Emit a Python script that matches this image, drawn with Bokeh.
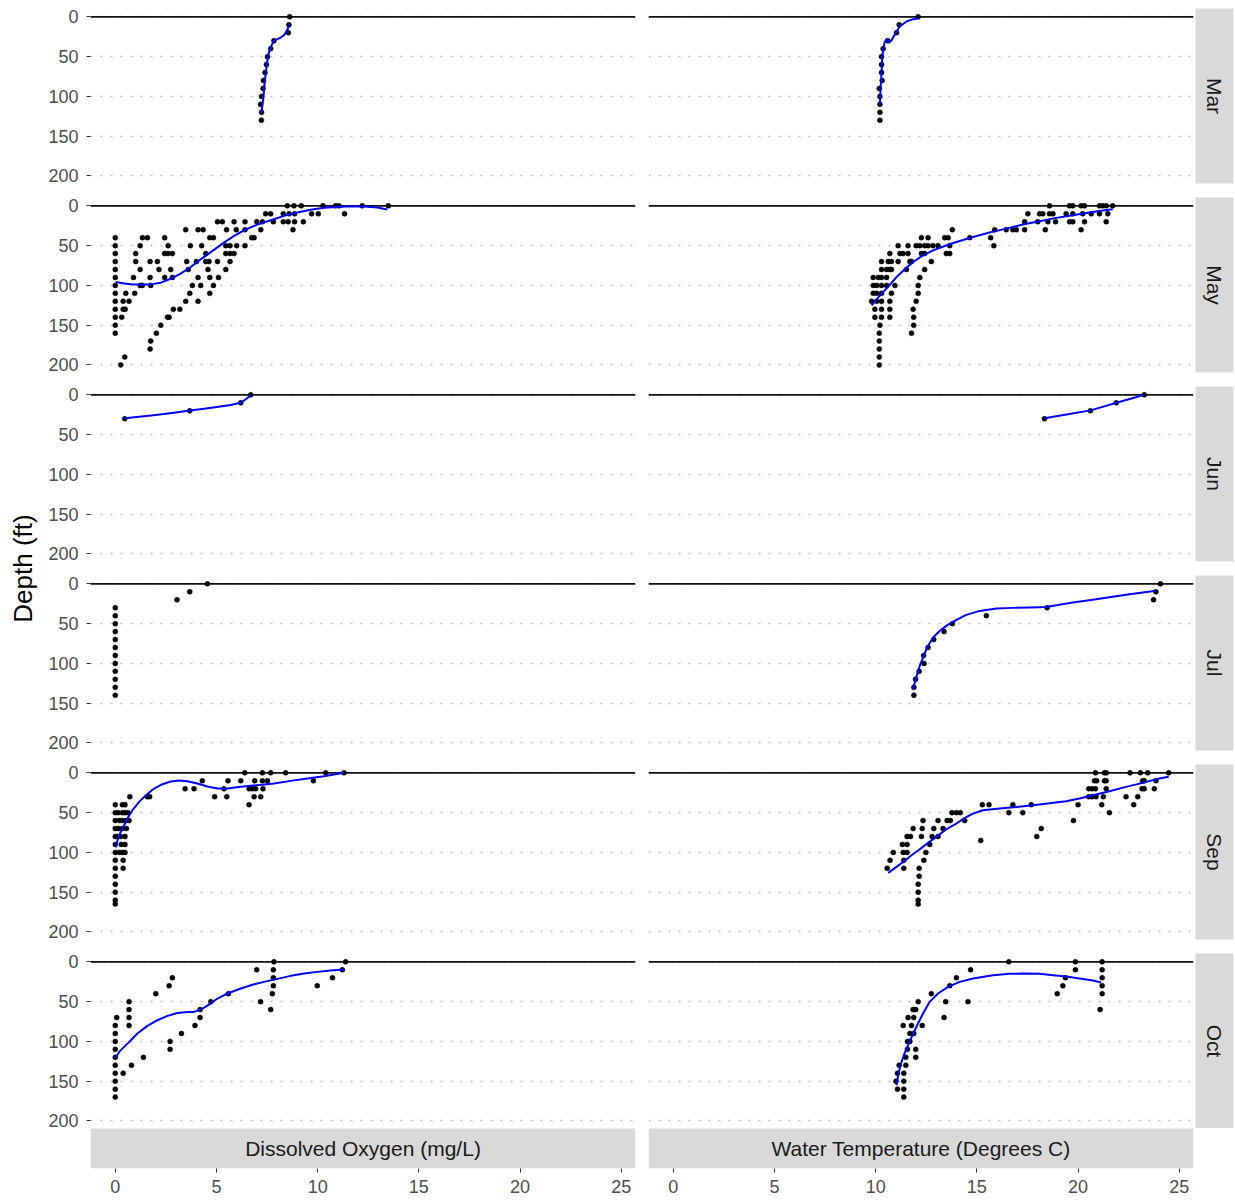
import math

from bokeh.core.properties import value
from bokeh.embed import file_html
from bokeh.layouts import column, row
from bokeh.models import FixedTicker, Grid, Range1d, Span
from bokeh.plotting import figure
from bokeh.resources import INLINE

# ---------------------------------------------------------------------------
# Facets and tick labels
# ---------------------------------------------------------------------------
months = ["Mar", "May", "Jun", "Jul", "Sep", "Oct"]
measures = ["Dissolved Oxygen (mg/L)", "Water Temperature (Degrees C)"]
value_ticks = [0, 5, 10, 15, 20, 25]
depth_ticks = [0, 50, 100, 150, 200]

# ---------------------------------------------------------------------------
# Profile readings: depth (ft) -> readings taken at that depth
# ---------------------------------------------------------------------------
mar_do = {0: [8.62], 10: [8.58], 20: [8.55], 30: [7.84], 40: [7.68], 50: [7.52],
          60: [7.47], 70: [7.40], 80: [7.32], 90: [7.30], 100: [7.23], 110: [7.18],
          120: [7.23], 130: [7.22]}
mar_temp = {0: [12.1], 10: [11.16], 20: [11.03], 30: [10.6], 40: [10.37], 50: [10.29],
            60: [10.29], 70: [10.29], 80: [10.32], 90: [10.18], 100: [10.21],
            110: [10.21], 120: [10.21], 130: [10.21]}

may_do = {
    0: [8.5, 8.83, 9.19, 10.26, 10.89, 11.05, 12.2, 13.49],
    10: [7.43, 7.68, 8.3, 8.59, 8.86, 9.7, 10.03, 11.33],
    20: [5.05, 5.29, 5.87, 6.41, 6.99, 7.27, 7.81, 8.3, 8.54, 8.86, 9.29],
    30: [3.48, 4.09, 4.34, 5.5, 5.98, 6.41, 7.19, 8.78],
    40: [0.0, 1.34, 1.59, 2.44, 4.67, 4.85, 6.74, 6.86],
    50: [0.0, 1.23, 2.61, 3.71, 4.27, 5.46, 5.67, 6.0, 6.41],
    60: [0.0, 1.01, 2.44, 2.61, 2.82, 4.47, 5.46, 5.67, 5.87],
    70: [0.0, 1.01, 1.72, 2.08, 3.53, 4.01, 4.47, 4.63, 5.05, 5.67],
    80: [0.0, 1.23, 2.16, 2.74, 3.61, 4.58, 5.46],
    90: [0.0, 0.9, 1.72, 2.44, 2.82, 4.09, 4.67, 5.1],
    100: [0.0, 1.23, 1.34, 1.75, 3.81, 4.22, 4.85],
    110: [0.0, 0.52, 0.96, 3.68, 4.67],
    120: [0.0, 0.39, 0.68, 3.48, 4.09],
    130: [0.0, 0.39, 0.49, 2.87, 3.19],
    140: [0.0, 0.32, 2.58, 2.66],
    150: [0.0, 2.25],
    160: [0.0, 2.03],
    170: [1.75],
    180: [1.72],
    190: [0.47],
    200: [0.27],
}
may_temp = {
    0: [18.59, 19.58, 19.74, 20.15, 20.32, 21.06, 21.22, 21.39, 21.71],
    10: [17.52, 18.1, 18.26, 18.59, 18.76, 19.41, 19.74, 20.23, 20.65, 21.06, 21.47],
    20: [17.36, 18.01, 18.51, 18.89, 19.58, 19.74, 20.32, 21.39],
    30: [13.79, 15.88, 16.45, 16.78, 16.95, 17.36, 18.38, 20.15],
    40: [12.26, 12.59, 13.41, 13.58, 14.65, 15.68],
    50: [11.11, 11.6, 12.0, 12.18, 12.42, 12.59, 12.83, 13.08, 13.66, 15.84],
    60: [10.7, 11.2, 11.36, 11.6, 12.26, 12.42, 13.49, 13.66],
    70: [10.29, 10.62, 10.78, 11.11, 11.69, 11.77, 12.75],
    80: [10.29, 10.54, 10.7, 10.78, 11.52, 12.42],
    90: [9.88, 10.13, 10.29, 10.54, 12.18],
    100: [9.88, 10.05, 10.29, 10.54, 10.95, 12.1],
    110: [9.88, 10.05, 10.29, 10.78, 12.1],
    120: [9.8, 10.05, 10.29, 10.7, 12.0],
    130: [9.96, 10.29, 10.7, 11.85],
    140: [9.96, 10.29, 10.7, 11.88],
    150: [10.21, 11.88],
    160: [10.18, 11.77],
    170: [10.18],
    180: [10.18],
    190: [10.18],
    200: [10.18],
}

jun_do = {0: [6.69], 10: [6.2], 20: [3.68], 30: [0.47]}
jun_temp = {0: [23.27], 10: [21.89], 20: [20.61], 30: [18.34]}

jul_do = {0: [4.55], 10: [3.68], 20: [3.05], 30: [0.0], 40: [0.0], 50: [0.0],
          60: [0.0], 70: [0.0], 80: [0.0], 90: [0.0], 100: [0.0], 110: [0.0],
          120: [0.0], 130: [0.0], 140: [0.0]}
jul_temp = {0: [24.07], 10: [23.85], 20: [23.73], 30: [18.47], 40: [15.47],
            50: [13.79], 60: [13.38], 70: [12.87], 80: [12.59], 90: [12.37],
            100: [12.39], 110: [12.15], 120: [11.97], 130: [11.89], 140: [11.89]}

sep_do = {
    0: [6.4, 7.27, 7.68, 8.42, 10.4, 11.3],
    10: [4.3, 5.57, 6.2, 6.89, 7.27, 7.52, 9.79],
    20: [3.45, 3.89, 5.37, 6.61, 6.77, 6.94, 7.3],
    30: [0.72, 1.59, 1.7, 4.91, 5.51, 6.86, 7.19],
    40: [0.0, 0.35, 0.48, 6.61],
    50: [0.0, 0.14, 0.35, 0.48, 0.63],
    60: [0.0, 0.2, 0.35, 0.52, 0.68],
    70: [0.0, 0.16, 0.35, 0.55],
    80: [0.0, 0.11, 0.27, 0.48],
    90: [0.0, 0.3, 0.48],
    100: [0.0, 0.2, 0.35, 0.48],
    110: [0.0, 0.39],
    120: [0.0, 0.39],
    130: [0.0],
    140: [0.0],
    150: [0.0],
    160: [0.0],
    165: [0.0],
}
sep_temp = {
    0: [20.86, 21.3, 21.39, 22.57, 23.08, 23.44, 24.48],
    10: [20.81, 20.92, 21.3, 21.39, 23.19, 23.27, 23.85],
    20: [20.53, 20.69, 20.86, 21.39, 23.16, 23.27, 23.77],
    30: [20.53, 20.69, 20.89, 21.25, 22.37, 22.95],
    40: [15.27, 15.6, 16.78, 17.69, 20.0, 21.17, 22.75],
    50: [13.77, 13.99, 14.18, 16.58, 17.27, 21.55],
    60: [12.34, 13.08, 13.53, 13.69, 14.4, 19.77],
    70: [11.85, 12.3, 12.87, 13.33, 18.18],
    80: [11.55, 11.72, 12.26, 12.79, 13.08, 17.96],
    85: [15.19],
    90: [11.32, 11.55, 12.67],
    100: [10.87, 11.36, 11.55, 12.48],
    110: [10.71, 11.39, 12.38],
    120: [10.57, 11.39, 12.15],
    130: [12.15],
    140: [12.1],
    150: [12.1],
    160: [12.1],
    165: [12.1],
}

oct_do = {
    0: [7.84, 11.38],
    10: [6.99, 7.81, 11.22],
    20: [2.82, 7.81, 10.73],
    30: [2.66, 7.81, 9.98],
    40: [2.0, 5.59, 7.76],
    50: [0.68, 4.72, 7.18],
    60: [0.68, 4.19, 7.68],
    70: [0.07, 0.68, 4.19],
    80: [0.0, 0.68, 3.94],
    90: [0.0, 3.27],
    100: [0.0, 2.71],
    110: [0.0, 2.71],
    120: [0.0, 1.39],
    130: [0.0, 0.8],
    140: [0.0, 0.39],
    150: [0.0],
    160: [0.0],
    170: [0.0],
}
oct_temp = {
    0: [16.58, 19.87, 21.19],
    10: [14.69, 19.87, 21.19],
    20: [13.99, 19.38, 21.19],
    30: [13.66, 19.25, 21.19],
    40: [12.75, 18.97, 21.19],
    50: [12.1, 13.46, 14.56],
    60: [11.85, 11.98, 21.09],
    70: [11.6, 11.88, 13.38],
    80: [11.36, 11.77, 12.3],
    90: [11.69, 11.88],
    100: [11.57, 11.69],
    110: [11.57, 11.98],
    120: [11.49, 11.98],
    130: [11.16, 11.49],
    140: [11.08, 11.39],
    150: [11.0, 11.39],
    160: [11.08, 11.39],
    170: [11.39],
}

# ---------------------------------------------------------------------------
# Loess trend of depth against reading (value, depth)
# ---------------------------------------------------------------------------
mar_do_fit_x = [7.22, 7.32, 7.38, 7.47, 7.55, 7.65, 7.81, 7.93, 8.17, 8.34, 8.5, 8.62]
mar_do_fit_d = [121, 101.5, 82.6, 63.7, 49, 39.8, 31.4, 28.9, 26, 23, 16.4, 9.2]
mar_temp_fit_x = [10.21, 10.24, 10.29, 10.32, 10.37, 10.45, 10.54, 10.67, 10.78, 10.95,
                  11.19, 11.52, 11.85, 12.1]
mar_temp_fit_d = [110.7, 91, 70, 53, 40.7, 31.4, 28, 32.3, 29.8, 21.8, 12.2, 5.9, 2.9, 1.7]

may_do_fit_x = [0.02, 0.44, 0.77, 1.26, 1.75, 2.25, 2.74, 3.23, 3.73, 4.22, 4.55, 4.96,
                5.37, 5.87, 6.36, 7.02, 7.68, 8.34, 9.0, 9.65, 10.31, 10.97, 11.63,
                12.29, 12.95, 13.44]
may_do_fit_d = [95.8, 97.5, 98.7, 99.2, 98.7, 96.6, 91.6, 85.3, 76.9, 67.2, 61.3, 53.8,
                46.2, 37.8, 30.7, 23.5, 18.1, 12.6, 8.4, 5.0, 2.5, 1.3, 0.4, 0.8, 2.1, 4.6]
may_temp_fit_x = [9.8, 10.04, 10.37, 10.7, 11.03, 11.44, 11.85, 12.34, 12.84, 13.41,
                  13.99, 14.81, 15.63, 16.45, 17.27, 18.1, 18.92, 19.74, 20.56, 21.22,
                  21.71]
may_temp_fit_d = [125.2, 117.6, 108.4, 99.2, 89.5, 79.8, 70.6, 62.2, 55.9, 50.4, 45.4,
                  39.1, 33.6, 28.6, 23.5, 19.3, 15.1, 11.8, 8.4, 5.9, 4.2]

jun_do_fit_x = [0.47, 1.3, 2.1, 2.9, 3.68, 4.4, 5.1, 5.7, 6.2, 6.45, 6.69]
jun_do_fit_d = [29.5, 27.3, 25, 22.5, 19.8, 17.5, 15, 12.8, 10, 5.5, 0.5]
jun_temp_fit_x = [18.34, 19.5, 20.61, 21.3, 21.89, 22.6, 23.27]
jun_temp_fit_d = [29.5, 24.5, 19.5, 14.5, 10, 5, 0]

jul_temp_fit_x = [11.85, 11.93, 12.05, 12.18, 12.34, 12.54, 12.84, 13.17, 13.49, 13.99,
                  14.48, 15.14, 15.96, 16.78, 17.6, 18.42, 19.74, 20.89, 22.37, 23.85]
jul_temp_fit_d = [132.5, 124, 113.6, 103, 92.7, 80, 67.5, 59, 52.8, 45.3, 39, 34, 31,
                  30.2, 29.8, 29, 23.5, 19.3, 13.8, 8.8]

sep_do_fit_x = [0.02, 0.14, 0.27, 0.44, 0.6, 0.85, 1.18, 1.51, 1.92, 2.33, 2.74, 3.15,
                3.56, 4.06, 4.55, 5.05, 5.54, 6.2, 7.02, 7.84, 8.67, 9.49, 10.31, 11.3]
sep_do_fit_d = [93.5, 82.6, 74.2, 65.8, 57.4, 46.9, 36.5, 28.1, 19.7, 14.3, 10.9, 9.6,
                10.5, 13.4, 17.2, 19.7, 19.7, 17.6, 15.5, 13.4, 10.1, 7.1, 4.2, 0]
sep_temp_fit_x = [10.62, 11.03, 11.36, 11.77, 12.18, 12.59, 13.0, 13.49, 13.99, 14.4,
                  14.81, 15.3, 16.12, 16.95, 17.77, 18.59, 19.41, 20.07, 20.73, 21.55,
                  22.37, 23.19, 24.01, 24.48]
sep_temp_fit_d = [125.8, 118.2, 112, 103.6, 96, 88, 80.5, 70.9, 63.7, 56.6, 51.2, 47,
                  44.9, 42.8, 40.7, 38.2, 35.6, 32.3, 28.1, 23.1, 17.6, 12.6, 7.1, 5]

oct_do_fit_x = [0.02, 0.19, 0.44, 0.77, 1.09, 1.59, 2.08, 2.58, 3.07, 3.56, 3.89, 4.22,
                4.63, 5.05, 5.54, 6.2, 6.86, 7.35, 8.01, 8.67, 9.33, 9.98, 10.64, 11.3]
oct_do_fit_d = [120.8, 113.2, 106.9, 98.5, 90.1, 80.5, 73.4, 67.9, 64.2, 62.9, 62.9, 60,
                53.7, 46.1, 39.8, 33.5, 28.1, 25.2, 21.4, 17.6, 14.7, 12.6, 10.9, 9.6]
oct_temp_fit_x = [11.03, 11.11, 11.23, 11.39, 11.6, 11.82, 12.05, 12.34, 12.67, 13.08,
                  13.58, 14.15, 14.81, 15.8, 16.62, 17.27, 18.1, 18.76, 19.41, 20.07,
                  20.73, 21.14]
oct_temp_fit_d = [155.1, 142.6, 130, 117.4, 104.8, 92.2, 79.7, 65, 50.3, 39.8, 31.4,
                  25.2, 21, 16.8, 15.1, 14.7, 15.1, 16.8, 18.4, 21, 23.5, 26]

profiles = {
    "Mar": (mar_do, mar_temp),
    "May": (may_do, may_temp),
    "Jun": (jun_do, jun_temp),
    "Jul": (jul_do, jul_temp),
    "Sep": (sep_do, sep_temp),
    "Oct": (oct_do, oct_temp),
}
trends = {
    "Mar": ((mar_do_fit_x, mar_do_fit_d), (mar_temp_fit_x, mar_temp_fit_d)),
    "May": ((may_do_fit_x, may_do_fit_d), (may_temp_fit_x, may_temp_fit_d)),
    "Jun": ((jun_do_fit_x, jun_do_fit_d), (jun_temp_fit_x, jun_temp_fit_d)),
    "Jul": (None, (jul_temp_fit_x, jul_temp_fit_d)),
    "Sep": ((sep_do_fit_x, sep_do_fit_d), (sep_temp_fit_x, sep_temp_fit_d)),
    "Oct": ((oct_do_fit_x, oct_do_fit_d), (oct_temp_fit_x, oct_temp_fit_d)),
}

# ---------------------------------------------------------------------------
# Styling
# ---------------------------------------------------------------------------
FONT = "Liberation Sans"
STRIP_FILL = "#d9d9d9"
STRIP_TEXT = "#1a1a1a"
TICK_TEXT = "#4d4d4d"
PANEL_W, PANEL_H = 545, 175
AXIS_W = 50          # room for the depth tick labels
GAP_X, GAP_Y = 13, 14
STRIP_W, STRIP_H = 38, 40

D_TOP, D_BOTTOM = -10.5, 209.5
PX_PER_FT = PANEL_H / (D_BOTTOM - D_TOP)

x_rng = Range1d(-1.224, 25.704)
d_rng = Range1d(D_BOTTOM, D_TOP)   # depth increases downward

# The last row also carries the measure strip beneath its panels, so its
# depth scale is extended by the strip's height at the same px-per-foot.
STRIP_FT = STRIP_H / PX_PER_FT
d_rng_last = Range1d(D_BOTTOM + STRIP_FT, D_TOP)


def flatten(by_depth):
    xs, ds = [], []
    for depth, readings in by_depth.items():
        for r in readings:
            xs.append(r)
            ds.append(depth)
    return xs, ds


def base_fig(**kw):
    opts = dict(toolbar_location=None, output_backend="svg", title=None,
                outline_line_color=None, background_fill_color="white",
                border_fill_color="white", min_border_left=0, min_border_right=0,
                min_border_top=0, min_border_bottom=0)
    opts.update(kw)
    p = figure(**opts)
    p.center = [c for c in p.center if not isinstance(c, Grid)]
    return p


def style_axis(ax, ticks, standoff):
    ax.ticker = FixedTicker(ticks=ticks)
    ax.axis_line_color = None
    ax.major_tick_in = 0
    ax.major_tick_out = 4
    ax.major_tick_line_color = "#333333"
    ax.major_label_standoff = standoff
    ax.major_label_text_font = FONT
    ax.major_label_text_font_size = "18px"
    ax.major_label_text_color = TICK_TEXT


def panel(by_depth, trend, with_axis, top, bottom, strip_label=None):
    last = strip_label is not None
    p = base_fig(frame_width=PANEL_W,
                 frame_height=PANEL_H + (STRIP_H if last else 0),
                 x_range=x_rng, y_range=d_rng_last if last else d_rng,
                 x_axis_location="below" if last else None,
                 y_axis_location="left" if with_axis else None,
                 min_border_left=AXIS_W if with_axis else 0,
                 min_border_right=GAP_X if with_axis else 2,
                 min_border_top=top, min_border_bottom=bottom)
    p.add_layout(Grid(dimension=1, ticker=FixedTicker(ticks=depth_ticks),
                      grid_line_color="#bdbdbd", grid_line_width=1.3,
                      grid_line_dash="2 8"))
    zero = Span(location=0, dimension="width", line_color="#111111", line_width=1.6)
    zero.level = "underlay"
    p.add_layout(zero)
    if with_axis:
        style_axis(p.yaxis[0], depth_ticks, 8)
    if last:
        style_axis(p.xaxis[0], value_ticks, 7)
        p.quad(left=[x_rng.start], right=[x_rng.end], top=[D_BOTTOM],
               bottom=[D_BOTTOM + STRIP_FT], fill_color=STRIP_FILL, line_color=None)
        p.text(x=[(x_rng.start + x_rng.end) / 2], y=[D_BOTTOM + STRIP_FT / 2],
               text=[strip_label], text_align="center", text_baseline="middle",
               text_font=value(FONT), text_font_size="21px", text_color=STRIP_TEXT)
    xs, ds = flatten(by_depth)
    p.scatter(xs, ds, size=5, fill_color="black", line_color="black", line_width=0.5)
    if trend is not None:
        p.line(trend[0], trend[1], line_color="#0000ff", line_width=2, line_join="round")
    return p


def side_strip(label, top, bottom):
    s = base_fig(frame_width=STRIP_W, frame_height=PANEL_H, x_range=Range1d(0, 1),
                 y_range=Range1d(0, 1), x_axis_location=None, y_axis_location=None,
                 background_fill_color=STRIP_FILL, min_border_top=top,
                 min_border_bottom=bottom, min_border_right=2)
    s.text(x=[0.5], y=[0.5], text=[label], angle=-math.pi / 2, text_align="center",
           text_baseline="middle", text_font=value(FONT), text_font_size="21px",
           text_color=STRIP_TEXT)
    return s


rows = []
for i, m in enumerate(months):
    first, last = i == 0, i == len(months) - 1
    top = 8 if first else 0
    bottom = 0 if last else GAP_Y
    do_obs, temp_obs = profiles[m]
    do_fit, temp_fit = trends[m]
    rows.append(row(
        panel(do_obs, do_fit, True, top, bottom, measures[0] if last else None),
        panel(temp_obs, temp_fit, False, top, bottom, measures[1] if last else None),
        side_strip(m, top, bottom),
    ))

n_rows = len(months)
title_fig = base_fig(frame_width=40, frame_height=n_rows * PANEL_H + (n_rows - 1) * GAP_Y,
                     x_range=Range1d(0, 40), y_range=Range1d(0, 1),
                     x_axis_location=None, y_axis_location=None, min_border_top=8)
title_fig.text(x=[22], y=[0.5], text=["Depth (ft)"], angle=math.pi / 2,
               text_align="center", text_baseline="middle", text_font=value(FONT),
               text_font_size="26px", text_color="black")

layout = row(title_fig, column(*rows))

with open("out.html", "w") as f:
    f.write(file_html(layout, INLINE))
